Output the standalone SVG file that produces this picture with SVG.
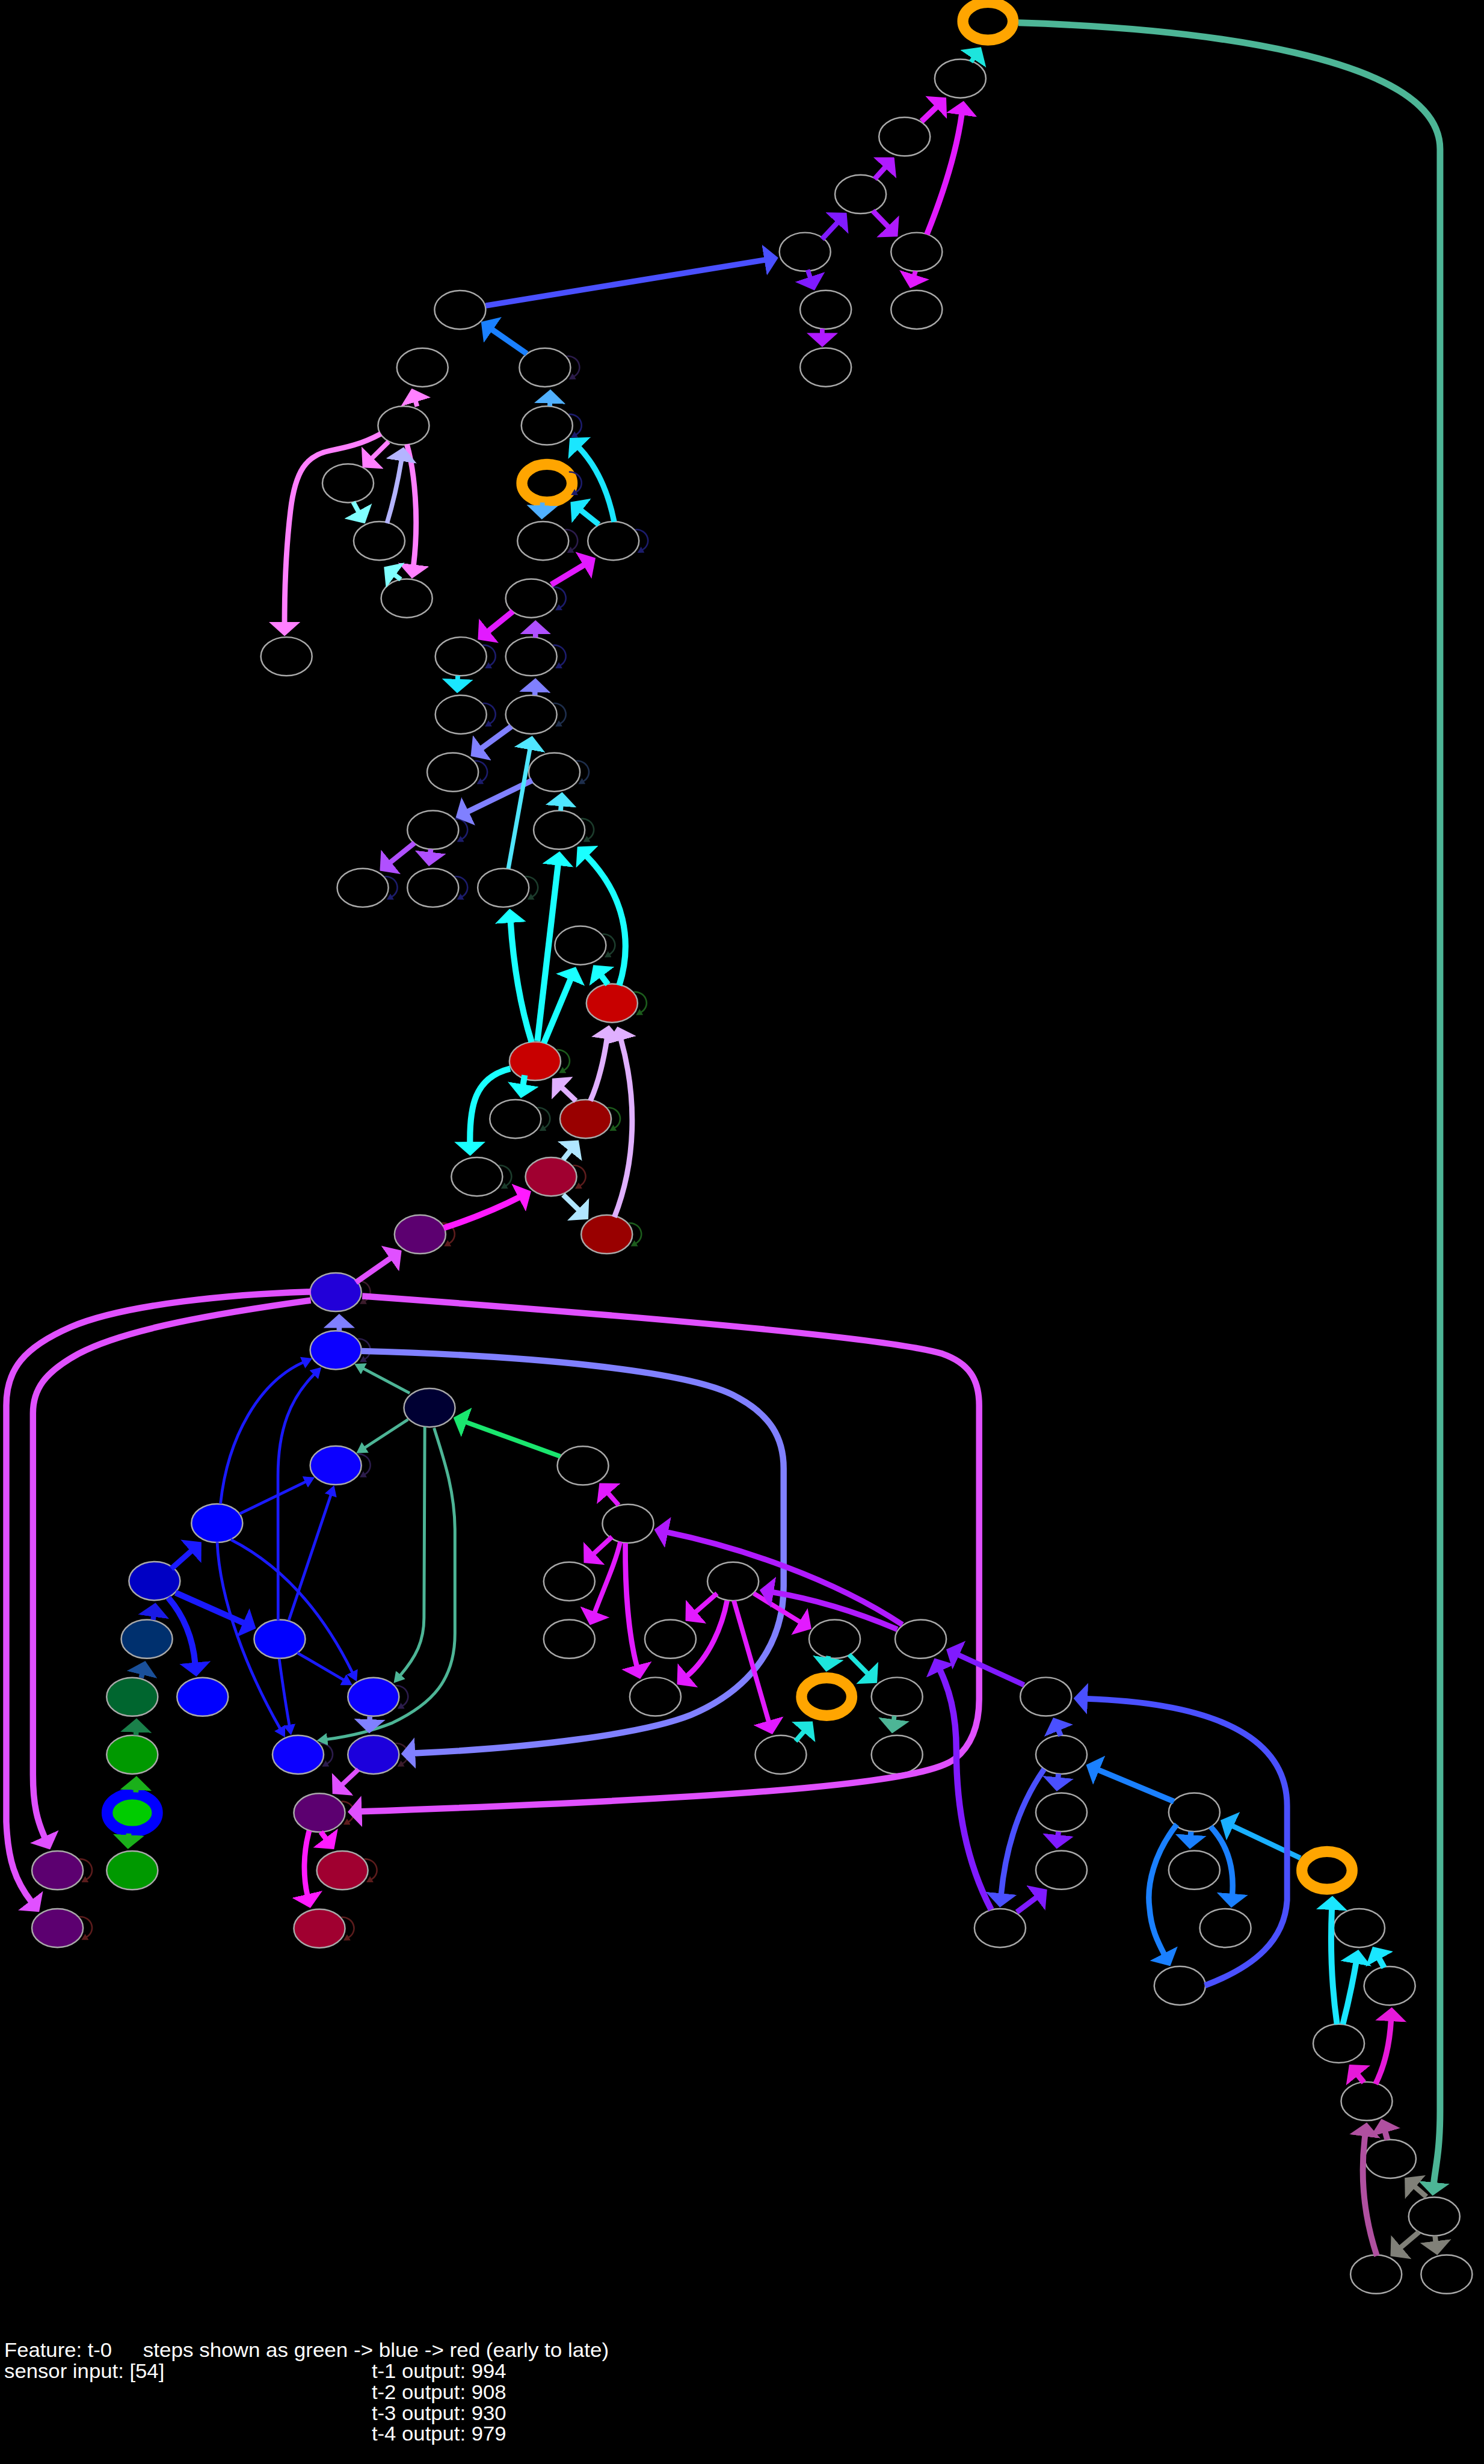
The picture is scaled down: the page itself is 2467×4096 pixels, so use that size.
<svg xmlns="http://www.w3.org/2000/svg" width="2467" height="4096" viewBox="0 0 2467 4096">
<style>
.n{fill:#000;stroke:#a9a9a9;stroke-width:0.95}
.o{fill:none;stroke:#ffa500;stroke-width:7}
.e{fill:none;stroke-linecap:butt}
.lp{fill:none;stroke-width:1}
text{font-family:"Liberation Sans Narrow","Liberation Sans",Arial,sans-serif;font-size:13px;fill:#fff}
</style>
<defs>
<marker id="a-teal" viewBox="0 0 10 10" refX="1" refY="5" markerWidth="9" markerHeight="20" markerUnits="userSpaceOnUse" orient="auto" preserveAspectRatio="none"><path d="M0,0L10,5L0,10z" fill="#4db596"/></marker>
<marker id="f-teal" viewBox="0 0 10 10" refX="1" refY="5" markerWidth="8.5" markerHeight="20" markerUnits="userSpaceOnUse" orient="auto" preserveAspectRatio="none"><path d="M0,0L10,5L0,10z" fill="#4db596"/></marker>
<marker id="t-teal" viewBox="0 0 10 10" refX="1" refY="5" markerWidth="6.8" markerHeight="8" markerUnits="userSpaceOnUse" orient="auto" preserveAspectRatio="none"><path d="M0,0L10,5L0,10z" fill="#4db596"/></marker>
<marker id="a-cyan1" viewBox="0 0 10 10" refX="1" refY="5" markerWidth="9" markerHeight="20" markerUnits="userSpaceOnUse" orient="auto" preserveAspectRatio="none"><path d="M0,0L10,5L0,10z" fill="#1de5dd"/></marker>
<marker id="a-mag" viewBox="0 0 10 10" refX="1" refY="5" markerWidth="9" markerHeight="20" markerUnits="userSpaceOnUse" orient="auto" preserveAspectRatio="none"><path d="M0,0L10,5L0,10z" fill="#e21aff"/></marker>
<marker id="a-purp" viewBox="0 0 10 10" refX="1" refY="5" markerWidth="9" markerHeight="20" markerUnits="userSpaceOnUse" orient="auto" preserveAspectRatio="none"><path d="M0,0L10,5L0,10z" fill="#b01aff"/></marker>
<marker id="a-viol" viewBox="0 0 10 10" refX="1" refY="5" markerWidth="9" markerHeight="20" markerUnits="userSpaceOnUse" orient="auto" preserveAspectRatio="none"><path d="M0,0L10,5L0,10z" fill="#801aff"/></marker>
<marker id="a-blue1" viewBox="0 0 10 10" refX="1" refY="5" markerWidth="9" markerHeight="20" markerUnits="userSpaceOnUse" orient="auto" preserveAspectRatio="none"><path d="M0,0L10,5L0,10z" fill="#4a50ff"/></marker>
<marker id="a-blue2" viewBox="0 0 10 10" refX="1" refY="5" markerWidth="9" markerHeight="20" markerUnits="userSpaceOnUse" orient="auto" preserveAspectRatio="none"><path d="M0,0L10,5L0,10z" fill="#1a80ff"/></marker>
<marker id="a-ltblue" viewBox="0 0 10 10" refX="1" refY="5" markerWidth="9" markerHeight="20" markerUnits="userSpaceOnUse" orient="auto" preserveAspectRatio="none"><path d="M0,0L10,5L0,10z" fill="#50b0ff"/></marker>
<marker id="a-cyan2" viewBox="0 0 10 10" refX="1" refY="5" markerWidth="9" markerHeight="20" markerUnits="userSpaceOnUse" orient="auto" preserveAspectRatio="none"><path d="M0,0L10,5L0,10z" fill="#1ae6ff"/></marker>
<marker id="a-pink" viewBox="0 0 10 10" refX="1" refY="5" markerWidth="9" markerHeight="20" markerUnits="userSpaceOnUse" orient="auto" preserveAspectRatio="none"><path d="M0,0L10,5L0,10z" fill="#ff80ff"/></marker>
<marker id="a-lav" viewBox="0 0 10 10" refX="1" refY="5" markerWidth="9" markerHeight="20" markerUnits="userSpaceOnUse" orient="auto" preserveAspectRatio="none"><path d="M0,0L10,5L0,10z" fill="#b4b4ff"/></marker>
<marker id="a-ltcyan" viewBox="0 0 10 10" refX="1" refY="5" markerWidth="9" markerHeight="20" markerUnits="userSpaceOnUse" orient="auto" preserveAspectRatio="none"><path d="M0,0L10,5L0,10z" fill="#80ffff"/></marker>
<marker id="a-viol2" viewBox="0 0 10 10" refX="1" refY="5" markerWidth="9" markerHeight="20" markerUnits="userSpaceOnUse" orient="auto" preserveAspectRatio="none"><path d="M0,0L10,5L0,10z" fill="#b050ff"/></marker>
<marker id="a-peri" viewBox="0 0 10 10" refX="1" refY="5" markerWidth="9" markerHeight="20" markerUnits="userSpaceOnUse" orient="auto" preserveAspectRatio="none"><path d="M0,0L10,5L0,10z" fill="#8080ff"/></marker>
<marker id="a-cyan3" viewBox="0 0 10 10" refX="1" refY="5" markerWidth="9" markerHeight="20" markerUnits="userSpaceOnUse" orient="auto" preserveAspectRatio="none"><path d="M0,0L10,5L0,10z" fill="#50e6ff"/></marker>
<marker id="a-cyan4" viewBox="0 0 10 10" refX="1" refY="5" markerWidth="9" markerHeight="20" markerUnits="userSpaceOnUse" orient="auto" preserveAspectRatio="none"><path d="M0,0L10,5L0,10z" fill="#1affff"/></marker>
<marker id="a-lav2" viewBox="0 0 10 10" refX="1" refY="5" markerWidth="9" markerHeight="20" markerUnits="userSpaceOnUse" orient="auto" preserveAspectRatio="none"><path d="M0,0L10,5L0,10z" fill="#e0b0ff"/></marker>
<marker id="a-pale" viewBox="0 0 10 10" refX="1" refY="5" markerWidth="9" markerHeight="20" markerUnits="userSpaceOnUse" orient="auto" preserveAspectRatio="none"><path d="M0,0L10,5L0,10z" fill="#b0e6ff"/></marker>
<marker id="a-mag2" viewBox="0 0 10 10" refX="1" refY="5" markerWidth="9" markerHeight="20" markerUnits="userSpaceOnUse" orient="auto" preserveAspectRatio="none"><path d="M0,0L10,5L0,10z" fill="#ff1aff"/></marker>
<marker id="a-pmag" viewBox="0 0 10 10" refX="1" refY="5" markerWidth="9" markerHeight="20" markerUnits="userSpaceOnUse" orient="auto" preserveAspectRatio="none"><path d="M0,0L10,5L0,10z" fill="#e050ff"/></marker>
<marker id="a-blue3" viewBox="0 0 10 10" refX="1" refY="5" markerWidth="9" markerHeight="20" markerUnits="userSpaceOnUse" orient="auto" preserveAspectRatio="none"><path d="M0,0L10,5L0,10z" fill="#1a1aff"/></marker>
<marker id="t-blue3" viewBox="0 0 10 10" refX="1" refY="5" markerWidth="6.8" markerHeight="8" markerUnits="userSpaceOnUse" orient="auto" preserveAspectRatio="none"><path d="M0,0L10,5L0,10z" fill="#1a1aff"/></marker>
<marker id="a-green" viewBox="0 0 10 10" refX="1" refY="5" markerWidth="9" markerHeight="20" markerUnits="userSpaceOnUse" orient="auto" preserveAspectRatio="none"><path d="M0,0L10,5L0,10z" fill="#1ae66e"/></marker>
<marker id="a-ltblue2" viewBox="0 0 10 10" refX="1" refY="5" markerWidth="9" markerHeight="20" markerUnits="userSpaceOnUse" orient="auto" preserveAspectRatio="none"><path d="M0,0L10,5L0,10z" fill="#1ab0ff"/></marker>
<marker id="a-mag3" viewBox="0 0 10 10" refX="1" refY="5" markerWidth="9" markerHeight="20" markerUnits="userSpaceOnUse" orient="auto" preserveAspectRatio="none"><path d="M0,0L10,5L0,10z" fill="#e619d9"/></marker>
<marker id="a-mauve" viewBox="0 0 10 10" refX="1" refY="5" markerWidth="9" markerHeight="20" markerUnits="userSpaceOnUse" orient="auto" preserveAspectRatio="none"><path d="M0,0L10,5L0,10z" fill="#b050a0"/></marker>
<marker id="a-grey" viewBox="0 0 10 10" refX="1" refY="5" markerWidth="9" markerHeight="20" markerUnits="userSpaceOnUse" orient="auto" preserveAspectRatio="none"><path d="M0,0L10,5L0,10z" fill="#808078"/></marker>
<marker id="a-g1" viewBox="0 0 10 10" refX="1" refY="5" markerWidth="9" markerHeight="20" markerUnits="userSpaceOnUse" orient="auto" preserveAspectRatio="none"><path d="M0,0L10,5L0,10z" fill="#1ab01a"/></marker>
<marker id="a-g2" viewBox="0 0 10 10" refX="1" refY="5" markerWidth="9" markerHeight="20" markerUnits="userSpaceOnUse" orient="auto" preserveAspectRatio="none"><path d="M0,0L10,5L0,10z" fill="#1a804a"/></marker>
<marker id="a-g3" viewBox="0 0 10 10" refX="1" refY="5" markerWidth="9" markerHeight="20" markerUnits="userSpaceOnUse" orient="auto" preserveAspectRatio="none"><path d="M0,0L10,5L0,10z" fill="#1a509a"/></marker>
<marker id="a-g4" viewBox="0 0 10 10" refX="1" refY="5" markerWidth="9" markerHeight="20" markerUnits="userSpaceOnUse" orient="auto" preserveAspectRatio="none"><path d="M0,0L10,5L0,10z" fill="#1a1ae6"/></marker>
<marker id="l-navy" viewBox="0 0 10 10" refX="1" refY="5" markerWidth="4" markerHeight="4.5" markerUnits="userSpaceOnUse" orient="auto" preserveAspectRatio="none"><path d="M0,0L10,5L0,10z" fill="#1c1c6c"/></marker>
<marker id="l-dp" viewBox="0 0 10 10" refX="1" refY="5" markerWidth="4" markerHeight="4.5" markerUnits="userSpaceOnUse" orient="auto" preserveAspectRatio="none"><path d="M0,0L10,5L0,10z" fill="#2c1c4c"/></marker>
<marker id="l-slate" viewBox="0 0 10 10" refX="1" refY="5" markerWidth="4" markerHeight="4.5" markerUnits="userSpaceOnUse" orient="auto" preserveAspectRatio="none"><path d="M0,0L10,5L0,10z" fill="#1e2e4c"/></marker>
<marker id="l-dg" viewBox="0 0 10 10" refX="1" refY="5" markerWidth="4" markerHeight="4.5" markerUnits="userSpaceOnUse" orient="auto" preserveAspectRatio="none"><path d="M0,0L10,5L0,10z" fill="#1c3c2c"/></marker>
<marker id="l-g" viewBox="0 0 10 10" refX="1" refY="5" markerWidth="4" markerHeight="4.5" markerUnits="userSpaceOnUse" orient="auto" preserveAspectRatio="none"><path d="M0,0L10,5L0,10z" fill="#1c5c1c"/></marker>
<marker id="l-r" viewBox="0 0 10 10" refX="1" refY="5" markerWidth="4" markerHeight="4.5" markerUnits="userSpaceOnUse" orient="auto" preserveAspectRatio="none"><path d="M0,0L10,5L0,10z" fill="#5c1c1c"/></marker>
<marker id="l-rp" viewBox="0 0 10 10" refX="1" refY="5" markerWidth="4" markerHeight="4.5" markerUnits="userSpaceOnUse" orient="auto" preserveAspectRatio="none"><path d="M0,0L10,5L0,10z" fill="#3c1c2c"/></marker>
</defs>
<rect x="0" y="0" width="2467" height="4096" fill="#000"/>
<g transform="scale(2.6106)">
<g id="nodes">
<g id="n-A"><ellipse class="o" cx="629.1" cy="13.5" rx="16" ry="12"/></g>
<g id="n-B"><ellipse class="n" cx="611.5" cy="50" rx="16.3" ry="12.3"/></g>
<g id="n-C"><ellipse class="n" cx="576" cy="87" rx="16.3" ry="12.3"/></g>
<g id="n-D"><ellipse class="n" cx="548" cy="123.7" rx="16.3" ry="12.3"/></g>
<g id="n-E"><ellipse class="n" cx="512.6" cy="160.4" rx="16.3" ry="12.3"/></g>
<g id="n-F"><ellipse class="n" cx="583.7" cy="160.4" rx="16.3" ry="12.3"/></g>
<g id="n-G"><ellipse class="n" cx="525.8" cy="197.2" rx="16.3" ry="12.3"/></g>
<g id="n-H"><ellipse class="n" cx="583.7" cy="197.2" rx="16.3" ry="12.3"/></g>
<g id="n-I"><ellipse class="n" cx="525.8" cy="233.9" rx="16.3" ry="12.3"/></g>
<g id="n-J"><ellipse class="n" cx="293" cy="197.3" rx="16.3" ry="12.3"/></g>
<g id="n-K"><ellipse class="n" cx="269" cy="234" rx="16.3" ry="12.3"/></g>
<g id="n-L"><ellipse class="n" cx="347" cy="234" rx="16.3" ry="12.3"/></g>
<g id="n-M"><ellipse class="n" cx="257" cy="271" rx="16.3" ry="12.3"/></g>
<g id="n-N"><ellipse class="n" cx="348.3" cy="271" rx="16.3" ry="12.3"/></g>
<g id="n-O"><ellipse class="n" cx="221.6" cy="307.7" rx="16.3" ry="12.3"/></g>
<g id="n-P"><ellipse class="o" cx="348.3" cy="307.7" rx="16" ry="12"/></g>
<g id="n-Q"><ellipse class="n" cx="241.5" cy="344.4" rx="16.3" ry="12.3"/></g>
<g id="n-R"><ellipse class="n" cx="345.8" cy="344.4" rx="16.3" ry="12.3"/></g>
<g id="n-S"><ellipse class="n" cx="390.6" cy="344.4" rx="16.3" ry="12.3"/></g>
<g id="n-T"><ellipse class="n" cx="259" cy="381" rx="16.3" ry="12.3"/></g>
<g id="n-U"><ellipse class="n" cx="182.4" cy="418" rx="16.3" ry="12.3"/></g>
<g id="n-V"><ellipse class="n" cx="338.3" cy="381" rx="16.3" ry="12.3"/></g>
<g id="n-W"><ellipse class="n" cx="293.5" cy="418" rx="16.3" ry="12.3"/></g>
<g id="n-X"><ellipse class="n" cx="338.3" cy="418" rx="16.3" ry="12.3"/></g>
<g id="n-Y"><ellipse class="n" cx="293.5" cy="455" rx="16.3" ry="12.3"/></g>
<g id="n-Z"><ellipse class="n" cx="338.3" cy="455" rx="16.3" ry="12.3"/></g>
<g id="n-AA"><ellipse class="n" cx="288.3" cy="491.7" rx="16.3" ry="12.3"/></g>
<g id="n-AB"><ellipse class="n" cx="353" cy="491.7" rx="16.3" ry="12.3"/></g>
<g id="n-AC"><ellipse class="n" cx="275.7" cy="528.5" rx="16.3" ry="12.3"/></g>
<g id="n-AD"><ellipse class="n" cx="356.1" cy="528.5" rx="16.3" ry="12.3"/></g>
<g id="n-AE"><ellipse class="n" cx="231" cy="565.3" rx="16.3" ry="12.3"/></g>
<g id="n-AF"><ellipse class="n" cx="275.7" cy="565.3" rx="16.3" ry="12.3"/></g>
<g id="n-AG"><ellipse class="n" cx="320.5" cy="565.3" rx="16.3" ry="12.3"/></g>
<g id="n-AH"><ellipse class="n" cx="369.6" cy="602" rx="16.3" ry="12.3"/></g>
<g id="n-AI"><ellipse class="n" cx="389.7" cy="638.8" rx="16.3" ry="12.3" style="fill:#c80000"/></g>
<g id="n-AJ"><ellipse class="n" cx="340.7" cy="675.7" rx="16.3" ry="12.3" style="fill:#c80000"/></g>
<g id="n-AK"><ellipse class="n" cx="328.2" cy="712.5" rx="16.3" ry="12.3"/></g>
<g id="n-AL"><ellipse class="n" cx="372.9" cy="712.5" rx="16.3" ry="12.3" style="fill:#990000"/></g>
<g id="n-AM"><ellipse class="n" cx="303.7" cy="749.3" rx="16.3" ry="12.3"/></g>
<g id="n-AN"><ellipse class="n" cx="350.9" cy="749.3" rx="16.3" ry="12.3" style="fill:#a00030"/></g>
<g id="n-AO"><ellipse class="n" cx="267.5" cy="786" rx="16.3" ry="12.3" style="fill:#5c0070"/></g>
<g id="n-AP"><ellipse class="n" cx="386.4" cy="786" rx="16.3" ry="12.3" style="fill:#990000"/></g>
<g id="n-AQ"><ellipse class="n" cx="213.8" cy="822.8" rx="16.3" ry="12.3" style="fill:#2200d8"/></g>
<g id="n-AR"><ellipse class="n" cx="213.8" cy="859.7" rx="16.3" ry="12.3" style="fill:#0c00ff"/></g>
<g id="n-AS"><ellipse class="n" cx="273.5" cy="896.4" rx="16.3" ry="12.3" style="fill:#000033"/></g>
<g id="n-AT"><ellipse class="n" cx="371.2" cy="933.3" rx="16.3" ry="12.3"/></g>
<g id="n-AU"><ellipse class="n" cx="213.8" cy="933.1" rx="16.3" ry="12.3" style="fill:#0c00ff"/></g>
<g id="n-AV"><ellipse class="n" cx="138.2" cy="969.9" rx="16.3" ry="12.3" style="fill:#0000ff"/></g>
<g id="n-AW"><ellipse class="n" cx="399.9" cy="970.2" rx="16.3" ry="12.3"/></g>
<g id="n-AX"><ellipse class="n" cx="98.4" cy="1006.7" rx="16.3" ry="12.3" style="fill:#0000c4"/></g>
<g id="n-AY"><ellipse class="n" cx="362.5" cy="1007" rx="16.3" ry="12.3"/></g>
<g id="n-AZ"><ellipse class="n" cx="466.8" cy="1007" rx="16.3" ry="12.3"/></g>
<g id="n-BA"><ellipse class="n" cx="93.5" cy="1043.7" rx="16.3" ry="12.3" style="fill:#00306e"/></g>
<g id="n-BB"><ellipse class="n" cx="178.1" cy="1043.7" rx="16.3" ry="12.3" style="fill:#0000ff"/></g>
<g id="n-BC"><ellipse class="n" cx="362.5" cy="1043.7" rx="16.3" ry="12.3"/></g>
<g id="n-BD"><ellipse class="n" cx="426.9" cy="1043.7" rx="16.3" ry="12.3"/></g>
<g id="n-BE"><ellipse class="n" cx="531.5" cy="1043.7" rx="16.3" ry="12.3"/></g>
<g id="n-BF"><ellipse class="n" cx="586.3" cy="1043.7" rx="16.3" ry="12.3"/></g>
<g id="n-BG"><ellipse class="n" cx="84.2" cy="1080.5" rx="16.3" ry="12.3" style="fill:#00662f"/></g>
<g id="n-BH"><ellipse class="n" cx="129" cy="1080.5" rx="16.3" ry="12.3" style="fill:#0000ff"/></g>
<g id="n-BI"><ellipse class="n" cx="237.8" cy="1080.5" rx="16.3" ry="12.3" style="fill:#0c00ff"/></g>
<g id="n-BJ"><ellipse class="n" cx="417.3" cy="1080.4" rx="16.3" ry="12.3"/></g>
<g id="n-BK"><ellipse class="o" cx="526.4" cy="1080.4" rx="16" ry="12"/></g>
<g id="n-BL"><ellipse class="n" cx="571.2" cy="1080.4" rx="16.3" ry="12.3"/></g>
<g id="n-BM"><ellipse class="n" cx="666" cy="1080.4" rx="16.3" ry="12.3"/></g>
<g id="n-BN"><ellipse class="n" cx="84.2" cy="1117.3" rx="16.3" ry="12.3" style="fill:#009900"/></g>
<g id="n-BO"><ellipse class="n" cx="189.8" cy="1117.3" rx="16.3" ry="12.3" style="fill:#0c00ff"/></g>
<g id="n-BP"><ellipse class="n" cx="237.8" cy="1117.3" rx="16.3" ry="12.3" style="fill:#1c00dc"/></g>
<g id="n-BQ"><ellipse class="n" cx="497.2" cy="1117.3" rx="16.3" ry="12.3"/></g>
<g id="n-BR"><ellipse class="n" cx="571.2" cy="1117.3" rx="16.3" ry="12.3"/></g>
<g id="n-BS"><ellipse class="n" cx="675.9" cy="1117.3" rx="16.3" ry="12.3"/></g>
<g id="n-BT"><ellipse cx="84.2" cy="1154.3" rx="16" ry="12" style="fill:#00cc00;stroke:#0000ff;stroke-width:7"/></g>
<g id="n-BU"><ellipse class="n" cx="203.4" cy="1154.3" rx="16.3" ry="12.3" style="fill:#5c0070"/></g>
<g id="n-BV"><ellipse class="n" cx="675.9" cy="1154" rx="16.3" ry="12.3"/></g>
<g id="n-BW"><ellipse class="n" cx="760.5" cy="1154" rx="16.3" ry="12.3"/></g>
<g id="n-BX"><ellipse class="n" cx="36.6" cy="1191" rx="16.3" ry="12.3" style="fill:#5c0070"/></g>
<g id="n-BY"><ellipse class="n" cx="84.2" cy="1191" rx="16.3" ry="12.3" style="fill:#009900"/></g>
<g id="n-BZ"><ellipse class="n" cx="218" cy="1191" rx="16.3" ry="12.3" style="fill:#a00030"/></g>
<g id="n-CA"><ellipse class="n" cx="675.9" cy="1190.8" rx="16.3" ry="12.3"/></g>
<g id="n-CB"><ellipse class="n" cx="760.5" cy="1190.8" rx="16.3" ry="12.3"/></g>
<g id="n-CC"><ellipse class="o" cx="845" cy="1191" rx="16" ry="12"/></g>
<g id="n-CD"><ellipse class="n" cx="36.6" cy="1227.7" rx="16.3" ry="12.3" style="fill:#5c0070"/></g>
<g id="n-CE"><ellipse class="n" cx="203.4" cy="1228" rx="16.3" ry="12.3" style="fill:#a00030"/></g>
<g id="n-CF"><ellipse class="n" cx="636.8" cy="1227.7" rx="16.3" ry="12.3"/></g>
<g id="n-CG"><ellipse class="n" cx="780.3" cy="1227.7" rx="16.3" ry="12.3"/></g>
<g id="n-CH"><ellipse class="n" cx="865.5" cy="1227.7" rx="16.3" ry="12.3"/></g>
<g id="n-CI"><ellipse class="n" cx="751.3" cy="1264.4" rx="16.3" ry="12.3"/></g>
<g id="n-CJ"><ellipse class="n" cx="884.9" cy="1264.5" rx="16.3" ry="12.3"/></g>
<g id="n-CK"><ellipse class="n" cx="852.5" cy="1301.2" rx="16.3" ry="12.3"/></g>
<g id="n-CL"><ellipse class="n" cx="870.3" cy="1338" rx="16.3" ry="12.3"/></g>
<g id="n-CM"><ellipse class="n" cx="885.4" cy="1374.7" rx="16.3" ry="12.3"/></g>
<g id="n-CN"><ellipse class="n" cx="913.3" cy="1411.4" rx="16.3" ry="12.3"/></g>
<g id="n-CO"><ellipse class="n" cx="876.3" cy="1448.2" rx="16.3" ry="12.3"/></g>
<g id="n-CP"><ellipse class="n" cx="921.2" cy="1448.2" rx="16.3" ry="12.3"/></g>
</g>
<g id="edges">
<g id="loops">
<path class="lp" transform="translate(347,234)" stroke="#2c1c4c" marker-end="url(#l-dp)" d="M14,-7.2C22,-7.5 25,2 18.4,5.8"/>
<path class="lp" transform="translate(348.3,271)" stroke="#1c1c6c" marker-end="url(#l-navy)" d="M14,-7.2C22,-7.5 25,2 18.4,5.8"/>
<path class="lp" transform="translate(348.3,307.7)" stroke="#1c1c6c" marker-end="url(#l-navy)" d="M14,-7.2C22,-7.5 25,2 18.4,5.8"/>
<path class="lp" transform="translate(345.8,344.4)" stroke="#2c1c4c" marker-end="url(#l-dp)" d="M14,-7.2C22,-7.5 25,2 18.4,5.8"/>
<path class="lp" transform="translate(390.6,344.4)" stroke="#1c1c6c" marker-end="url(#l-navy)" d="M14,-7.2C22,-7.5 25,2 18.4,5.8"/>
<path class="lp" transform="translate(338.3,381)" stroke="#1c1c6c" marker-end="url(#l-navy)" d="M14,-7.2C22,-7.5 25,2 18.4,5.8"/>
<path class="lp" transform="translate(293.5,418)" stroke="#1c1c6c" marker-end="url(#l-navy)" d="M14,-7.2C22,-7.5 25,2 18.4,5.8"/>
<path class="lp" transform="translate(338.3,418)" stroke="#1c1c6c" marker-end="url(#l-navy)" d="M14,-7.2C22,-7.5 25,2 18.4,5.8"/>
<path class="lp" transform="translate(293.5,455)" stroke="#1c1c6c" marker-end="url(#l-navy)" d="M14,-7.2C22,-7.5 25,2 18.4,5.8"/>
<path class="lp" transform="translate(338.3,455)" stroke="#1e2e4c" marker-end="url(#l-slate)" d="M14,-7.2C22,-7.5 25,2 18.4,5.8"/>
<path class="lp" transform="translate(288.3,491.7)" stroke="#1c1c6c" marker-end="url(#l-navy)" d="M14,-7.2C22,-7.5 25,2 18.4,5.8"/>
<path class="lp" transform="translate(353,491.7)" stroke="#1e2e4c" marker-end="url(#l-slate)" d="M14,-7.2C22,-7.5 25,2 18.4,5.8"/>
<path class="lp" transform="translate(275.7,528.5)" stroke="#1c1c6c" marker-end="url(#l-navy)" d="M14,-7.2C22,-7.5 25,2 18.4,5.8"/>
<path class="lp" transform="translate(356.1,528.5)" stroke="#1c3c2c" marker-end="url(#l-dg)" d="M14,-7.2C22,-7.5 25,2 18.4,5.8"/>
<path class="lp" transform="translate(231,565.3)" stroke="#1c1c6c" marker-end="url(#l-navy)" d="M14,-7.2C22,-7.5 25,2 18.4,5.8"/>
<path class="lp" transform="translate(275.7,565.3)" stroke="#1c1c6c" marker-end="url(#l-navy)" d="M14,-7.2C22,-7.5 25,2 18.4,5.8"/>
<path class="lp" transform="translate(320.5,565.3)" stroke="#1c3c2c" marker-end="url(#l-dg)" d="M14,-7.2C22,-7.5 25,2 18.4,5.8"/>
<path class="lp" transform="translate(369.6,602)" stroke="#1c3c2c" marker-end="url(#l-dg)" d="M14,-7.2C22,-7.5 25,2 18.4,5.8"/>
<path class="lp" transform="translate(389.7,638.8)" stroke="#1c5c1c" marker-end="url(#l-g)" d="M14,-7.2C22,-7.5 25,2 18.4,5.8"/>
<path class="lp" transform="translate(340.7,675.7)" stroke="#1c5c1c" marker-end="url(#l-g)" d="M14,-7.2C22,-7.5 25,2 18.4,5.8"/>
<path class="lp" transform="translate(328.2,712.5)" stroke="#1c3c2c" marker-end="url(#l-dg)" d="M14,-7.2C22,-7.5 25,2 18.4,5.8"/>
<path class="lp" transform="translate(372.9,712.5)" stroke="#1c5c1c" marker-end="url(#l-g)" d="M14,-7.2C22,-7.5 25,2 18.4,5.8"/>
<path class="lp" transform="translate(303.7,749.3)" stroke="#1c3c2c" marker-end="url(#l-dg)" d="M14,-7.2C22,-7.5 25,2 18.4,5.8"/>
<path class="lp" transform="translate(350.9,749.3)" stroke="#5c1c1c" marker-end="url(#l-r)" d="M14,-7.2C22,-7.5 25,2 18.4,5.8"/>
<path class="lp" transform="translate(267.5,786)" stroke="#5c1c1c" marker-end="url(#l-r)" d="M14,-7.2C22,-7.5 25,2 18.4,5.8"/>
<path class="lp" transform="translate(386.4,786)" stroke="#1c5c1c" marker-end="url(#l-g)" d="M14,-7.2C22,-7.5 25,2 18.4,5.8"/>
<path class="lp" transform="translate(213.8,822.8)" stroke="#3c1c2c" marker-end="url(#l-rp)" d="M14,-7.2C22,-7.5 25,2 18.4,5.8"/>
<path class="lp" transform="translate(213.8,859.7)" stroke="#2c1c4c" marker-end="url(#l-dp)" d="M14,-7.2C22,-7.5 25,2 18.4,5.8"/>
<path class="lp" transform="translate(213.8,933.1)" stroke="#2c1c4c" marker-end="url(#l-dp)" d="M14,-7.2C22,-7.5 25,2 18.4,5.8"/>
<path class="lp" transform="translate(237.8,1080.5)" stroke="#2c1c4c" marker-end="url(#l-dp)" d="M14,-7.2C22,-7.5 25,2 18.4,5.8"/>
<path class="lp" transform="translate(189.8,1117.3)" stroke="#2c1c4c" marker-end="url(#l-dp)" d="M14,-7.2C22,-7.5 25,2 18.4,5.8"/>
<path class="lp" transform="translate(237.8,1117.3)" stroke="#3c1c2c" marker-end="url(#l-rp)" d="M14,-7.2C22,-7.5 25,2 18.4,5.8"/>
<path class="lp" transform="translate(203.4,1154.3)" stroke="#5c1c1c" marker-end="url(#l-r)" d="M14,-7.2C22,-7.5 25,2 18.4,5.8"/>
<path class="lp" transform="translate(36.6,1191)" stroke="#5c1c1c" marker-end="url(#l-r)" d="M14,-7.2C22,-7.5 25,2 18.4,5.8"/>
<path class="lp" transform="translate(36.6,1227.7)" stroke="#5c1c1c" marker-end="url(#l-r)" d="M14,-7.2C22,-7.5 25,2 18.4,5.8"/>
<path class="lp" transform="translate(218,1191)" stroke="#5c1c1c" marker-end="url(#l-r)" d="M14,-7.2C22,-7.5 25,2 18.4,5.8"/>
<path class="lp" transform="translate(203.4,1228)" stroke="#5c1c1c" marker-end="url(#l-r)" d="M14,-7.2C22,-7.5 25,2 18.4,5.8"/>
</g>
<path class="e" stroke="#4db596" stroke-width="4.2" marker-end="url(#f-teal)" d="M648.5,14.5C760,18 917,35 917,95L917,1344C917,1370 914,1380 913,1390.5"/>
<path class="e" stroke="#1de5dd" stroke-width="3" marker-end="url(#a-cyan1)" d="M618.3,39.5L620.2,36.7"/>
<path class="e" stroke="#e21aff" stroke-width="3.7" marker-end="url(#a-mag)" d="M586.8,77.3L596.7,67.8"/>
<path class="e" stroke="#e21aff" stroke-width="3.7" marker-end="url(#a-mag)" d="M590.2,149.3Q608,105 612.5,72.3"/>
<path class="e" stroke="#b01aff" stroke-width="3.3" marker-end="url(#a-purp)" d="M556.9,114L564,106.2"/>
<path class="e" stroke="#801aff" stroke-width="3.3" marker-end="url(#a-viol)" d="M523.4,152.3L533.6,141.4"/>
<path class="e" stroke="#b01aff" stroke-width="3.3" marker-end="url(#a-purp)" d="M555.7,134.2L566,144.8"/>
<path class="e" stroke="#801aff" stroke-width="3" marker-end="url(#a-viol)" d="M514.3,171.8L516.1,177.2"/>
<path class="e" stroke="#b01aff" stroke-width="3" marker-end="url(#a-purp)" d="M523.6,209.3L523.6,212.9"/>
<path class="e" stroke="#e21aff" stroke-width="3" marker-end="url(#a-mag)" d="M583,172.6L582,175.8"/>
<path class="e" stroke="#4a50ff" stroke-width="3.6" marker-end="url(#a-blue1)" d="M309.3,194.6L487.6,165.4"/>
<path class="e" stroke="#1a80ff" stroke-width="3.7" marker-end="url(#a-blue2)" d="M335.4,225.2L313,209.6"/>
<path class="e" stroke="#50b0ff" stroke-width="3" marker-end="url(#a-ltblue)" d="M350.1,258.6L350.2,256"/>
<path class="e" stroke="#1ae6ff" stroke-width="3.6" marker-end="url(#a-cyan2)" d="M391.1,332.3Q385,302 368.4,284.7"/>
<path class="e" stroke="#1ae6ff" stroke-width="3.6" marker-end="url(#a-cyan2)" d="M381.3,334L369.6,324.7"/>
<path class="e" stroke="#50b0ff" stroke-width="3" marker-end="url(#a-ltblue)" d="M345.4,320L345.3,322.7"/>
<path class="e" stroke="#e21aff" stroke-width="3.7" marker-end="url(#a-mag)" d="M351,372.3L372.3,359.5"/>
<path class="e" stroke="#e21aff" stroke-width="3.7" marker-end="url(#a-mag)" d="M326.6,389.3L310.6,402.2"/>
<path class="e" stroke="#b050ff" stroke-width="3.3" marker-end="url(#a-viol2)" d="M341,406L341,403"/>
<path class="e" stroke="#1ae6ff" stroke-width="3" marker-end="url(#a-cyan2)" d="M291.5,430.3L291.4,433.3"/>
<path class="e" stroke="#8080ff" stroke-width="3.3" marker-end="url(#a-peri)" d="M340.6,442.7L340.7,439.9"/>
<path class="e" stroke="#8080ff" stroke-width="3.6" marker-end="url(#a-peri)" d="M325.6,462.6L306.3,476.7"/>
<path class="e" stroke="#8080ff" stroke-width="3.6" marker-end="url(#a-peri)" d="M338.9,496.9L297.5,517"/>
<path class="e" stroke="#50e6ff" stroke-width="2.7" marker-end="url(#a-cyan3)" d="M323.7,553.1L337.5,476.5"/>
<path class="e" stroke="#50e6ff" stroke-width="3" marker-end="url(#a-cyan3)" d="M357,516.2L357.3,512.5"/>
<path class="e" stroke="#b050ff" stroke-width="3.3" marker-end="url(#a-viol2)" d="M264,536.7L248.2,549.4"/>
<path class="e" stroke="#b050ff" stroke-width="3.3" marker-end="url(#a-viol2)" d="M274.3,540.8L274,543.5"/>
<path class="e" stroke="#1affff" stroke-width="3.9" marker-end="url(#a-cyan4)" d="M338.5,663.5Q328,630 325.1,586.7"/>
<path class="e" stroke="#1affff" stroke-width="3.9" marker-end="url(#a-cyan4)" d="M342.2,662.9L355.4,550.2"/>
<path class="e" stroke="#1affff" stroke-width="3.9" marker-end="url(#a-cyan4)" d="M346.3,664.2L363.5,623.1"/>
<path class="e" stroke="#1affff" stroke-width="3.9" marker-end="url(#a-cyan4)" d="M387.1,626.8L382.7,621"/>
<path class="e" stroke="#1affff" stroke-width="3.9" marker-end="url(#a-cyan4)" d="M394.3,627.5C403,600 398,570 373.3,544.9"/>
<path class="e" stroke="#1affff" stroke-width="3.9" marker-end="url(#a-cyan4)" d="M334.1,684.6L333,691.3"/>
<path class="e" stroke="#1affff" stroke-width="3.9" marker-end="url(#a-cyan4)" d="M324.9,680.5C302,686 299,705 299.3,727.9"/>
<path class="e" stroke="#e0b0ff" stroke-width="3.4" marker-end="url(#a-lav2)" d="M366.7,701L357.5,692.3"/>
<path class="e" stroke="#e0b0ff" stroke-width="3.4" marker-end="url(#a-lav2)" d="M375.9,701Q383,685 386.6,660.8"/>
<path class="e" stroke="#e0b0ff" stroke-width="3.4" marker-end="url(#a-lav2)" d="M391.2,775.1C405,740 406,700 395.3,661.5"/>
<path class="e" stroke="#b0e6ff" stroke-width="3.3" marker-end="url(#a-pale)" d="M358.6,738.4L363.4,732.4"/>
<path class="e" stroke="#b0e6ff" stroke-width="3.3" marker-end="url(#a-pale)" d="M358.6,760.8L368.8,770.7"/>
<path class="e" stroke="#ff1aff" stroke-width="3.9" marker-end="url(#a-mag2)" d="M282.6,781.9Q310,773 331,762.2"/>
<path class="e" stroke="#e050ff" stroke-width="3.5" marker-end="url(#a-pmag)" d="M226.6,816.6L249.1,800.9"/>
<path class="e" stroke="#8080ff" stroke-width="3.3" marker-end="url(#a-peri)" d="M216,847.4L216,844.7"/>
<path class="e" stroke="#e050ff" stroke-width="4" marker-end="url(#a-pmag)" d="M197.9,822.5C150,824 80,830 45,845C15,858 4,872 4,895L4,1160C5,1185 10,1198 20,1211"/>
<path class="e" stroke="#e050ff" stroke-width="4" marker-end="url(#a-pmag)" d="M197.9,828C140,836 80,846 50,862C28,874 21,885 21,900L21,1130C21,1150 24,1160 28.6,1170.3"/>
<path class="e" stroke="#e050ff" stroke-width="4" marker-end="url(#a-pmag)" d="M230.7,825.3C350,834 560,850 600,862C617,868 623.5,878 623.5,895L623.5,1082C623.5,1100 618,1112 608,1120C590,1134 500,1144 229.5,1153.5"/>
<path class="e" stroke="#8080ff" stroke-width="4" marker-end="url(#a-peri)" d="M230,860.3C330,863 440,872 470,890C490,901 499,915 499,935L499,1010C499,1045 480,1075 440,1092C410,1104 340,1113 263.5,1116.4"/>
<path class="e" stroke="#4db596" stroke-width="1.9" marker-end="url(#t-teal)" d="M260.9,887.1L231.1,871.3"/>
<path class="e" stroke="#4db596" stroke-width="1.9" marker-end="url(#t-teal)" d="M259.8,903.9L232,922"/>
<path class="e" stroke="#4db596" stroke-width="1.9" marker-end="url(#t-teal)" d="M270.5,908.5L270,1030C270,1045 265,1055 254.7,1067"/>
<path class="e" stroke="#4db596" stroke-width="1.9" marker-end="url(#t-teal)" d="M276.4,909.3C283,930 289.7,950 289.7,975L289.7,1040C289.7,1070 275,1085 250,1097C235,1103 220,1106 207.8,1107.6"/>
<path class="e" stroke="#1ae66e" stroke-width="3" marker-end="url(#a-green)" d="M356.7,927.3L296.3,905.4"/>
<path class="e" stroke="#e21aff" stroke-width="3" marker-end="url(#a-mag)" d="M393.9,958.4L387,950.5"/>
<path class="e" stroke="#e21aff" stroke-width="3" marker-end="url(#a-mag)" d="M389.7,978.6L377.7,989.7"/>
<path class="e" stroke="#e21aff" stroke-width="3" marker-end="url(#a-mag)" d="M395,981.7C392,995 385,1010 378.5,1027.2"/>
<path class="e" stroke="#e21aff" stroke-width="3.3" marker-end="url(#a-mag)" d="M398.2,982.5C398,1010 400,1040 405.6,1061.3"/>
<path class="e" stroke="#e21aff" stroke-width="3" marker-end="url(#a-mag)" d="M456.6,1014.6L442.6,1026.8"/>
<path class="e" stroke="#e21aff" stroke-width="3.3" marker-end="url(#a-mag)" d="M463,1019.2C460,1035 452,1055 437.3,1067.4"/>
<path class="e" stroke="#e21aff" stroke-width="3" marker-end="url(#a-mag)" d="M467.3,1019.2L489.6,1096.6"/>
<path class="e" stroke="#e21aff" stroke-width="3" marker-end="url(#a-mag)" d="M480,1014.6L509.8,1033"/>
<path class="e" stroke="#b01aff" stroke-width="3.6" marker-end="url(#a-purp)" d="M574.6,1034.5C530,1005 470,985 424.5,975.6"/>
<path class="e" stroke="#b01aff" stroke-width="3.6" marker-end="url(#a-purp)" d="M571.4,1037.5Q530,1020 491.7,1013.8"/>
<path class="e" stroke="#1de5dd" stroke-width="3" marker-end="url(#a-cyan1)" d="M527.6,1054.5L527.3,1056.5"/>
<path class="e" stroke="#1de5dd" stroke-width="3" marker-end="url(#a-cyan1)" d="M540.6,1053.6L552.8,1065.9"/>
<path class="e" stroke="#4db596" stroke-width="3" marker-end="url(#a-teal)" d="M569.5,1092.6L569.1,1095.7"/>
<path class="e" stroke="#1de5dd" stroke-width="3" marker-end="url(#a-cyan1)" d="M506.6,1108.7L512.2,1102.2"/>
<path class="e" stroke="#801aff" stroke-width="3.4" marker-end="url(#a-viol)" d="M652.1,1072.9L609.9,1053.6"/>
<path class="e" stroke="#801aff" stroke-width="4" marker-end="url(#a-viol)" d="M631.2,1216C615,1185 609,1150 609,1115C609,1090 604,1075 598.5,1063.2"/>
<path class="e" stroke="#801aff" stroke-width="3.4" marker-end="url(#a-viol)" d="M647.5,1217.6L660.3,1208"/>
<path class="e" stroke="#4a50ff" stroke-width="3.4" marker-end="url(#a-blue1)" d="M675.5,1105.3L673.8,1101.2"/>
<path class="e" stroke="#4a50ff" stroke-width="3.6" marker-end="url(#a-blue1)" d="M664.9,1126.5C652,1145 641,1170 637.5,1206.5"/>
<path class="e" stroke="#4a50ff" stroke-width="3.4" marker-end="url(#a-blue1)" d="M674,1129.5L673.7,1132.6"/>
<path class="e" stroke="#801aff" stroke-width="3.4" marker-end="url(#a-viol)" d="M674,1166.3L673.7,1169.3"/>
<path class="e" stroke="#1a80ff" stroke-width="3.6" marker-end="url(#a-blue2)" d="M747.6,1147.1L699.1,1126.9"/>
<path class="e" stroke="#1a80ff" stroke-width="3.6" marker-end="url(#a-blue2)" d="M758.4,1166.3L758.2,1169.3"/>
<path class="e" stroke="#1a80ff" stroke-width="3.6" marker-end="url(#a-blue2)" d="M749.4,1161.7C735,1180 730,1200 732,1215C733,1228 737,1236 741.5,1244.7"/>
<path class="e" stroke="#1a80ff" stroke-width="3.6" marker-end="url(#a-blue2)" d="M770.9,1163.2C782,1175 786,1190 784.7,1206.7"/>
<path class="e" stroke="#1ab0ff" stroke-width="3.3" marker-end="url(#a-ltblue2)" d="M828,1183.1L784.5,1162.5"/>
<path class="e" stroke="#4a50ff" stroke-width="3.8" marker-end="url(#a-blue1)" d="M767.2,1264.3C800,1252 818,1235 819.6,1210L819.6,1150C819.6,1115 790,1085 691.7,1081.7"/>
<path class="e" stroke="#1ae6ff" stroke-width="3.8" marker-end="url(#a-cyan2)" d="M851.4,1289C848,1265 847,1240 848.1,1215.3"/>
<path class="e" stroke="#1ae6ff" stroke-width="3.8" marker-end="url(#a-cyan2)" d="M855.1,1289Q860,1270 863.6,1249.5"/>
<path class="e" stroke="#1ae6ff" stroke-width="3.8" marker-end="url(#a-cyan2)" d="M881.4,1252.9L878,1246.7"/>
<path class="e" stroke="#e619d9" stroke-width="3.6" marker-end="url(#a-mag3)" d="M868.5,1326L864.3,1320.9"/>
<path class="e" stroke="#e619d9" stroke-width="3.6" marker-end="url(#a-mag3)" d="M875.9,1327C882,1315 885,1300 885.8,1286.2"/>
<path class="e" stroke="#b050a0" stroke-width="3.8" marker-end="url(#a-mauve)" d="M876.8,1436.5C868,1410 866,1385 869.3,1359.5"/>
<path class="e" stroke="#b050a0" stroke-width="3.8" marker-end="url(#a-mauve)" d="M883.5,1362.6L881.9,1357"/>
<path class="e" stroke="#808078" stroke-width="3.3" marker-end="url(#a-grey)" d="M908.3,1398.8L900.6,1392.1"/>
<path class="e" stroke="#808078" stroke-width="3.3" marker-end="url(#a-grey)" d="M903.6,1421.2L891.6,1431.4"/>
<path class="e" stroke="#808078" stroke-width="3.3" marker-end="url(#a-grey)" d="M913.8,1423.7L914.3,1427.9"/>
<path class="e" stroke="#1ab01a" stroke-width="3.3" marker-end="url(#a-g1)" d="M86.5,1141.3L86.6,1139"/>
<path class="e" stroke="#1ab01a" stroke-width="3.3" marker-end="url(#a-g1)" d="M82,1167.5L81.9,1169.3"/>
<path class="e" stroke="#1a804a" stroke-width="3.3" marker-end="url(#a-g2)" d="M86.6,1105L86.7,1102.2"/>
<path class="e" stroke="#1a509a" stroke-width="3.3" marker-end="url(#a-g3)" d="M89.9,1068.4L90.6,1065.5"/>
<path class="e" stroke="#1a1ae6" stroke-width="3.3" marker-end="url(#a-g4)" d="M97.5,1031.5L97.9,1028.6"/>
<path class="e" stroke="#1a1aff" stroke-width="3.5" marker-end="url(#a-blue3)" d="M109.1,998.9L122.2,987.3"/>
<path class="e" stroke="#1a1aff" stroke-width="3.9" marker-end="url(#a-blue3)" d="M111.8,1014.2L155.6,1033.6"/>
<path class="e" stroke="#1a1aff" stroke-width="3.9" marker-end="url(#a-blue3)" d="M107.1,1017.3C118,1030 123,1045 124.3,1059.5"/>
<path class="e" stroke="#1a1aff" stroke-width="1.8" marker-end="url(#t-blue3)" d="M152.6,963.9L194.9,943.4"/>
<path class="e" stroke="#1a1aff" stroke-width="1.8" marker-end="url(#t-blue3)" d="M140.4,957.5C145,915 165,880 193.3,867.4"/>
<path class="e" stroke="#1a1aff" stroke-width="1.8" marker-end="url(#t-blue3)" d="M147,980.4Q195,1005 224.5,1065.2"/>
<path class="e" stroke="#1a1aff" stroke-width="1.8" marker-end="url(#t-blue3)" d="M138.3,982C140,1020 158,1065 178.5,1100.9"/>
<path class="e" stroke="#1a1aff" stroke-width="1.8" marker-end="url(#t-blue3)" d="M177.8,1056.3Q181,1080 184.3,1098.9"/>
<path class="e" stroke="#1a1aff" stroke-width="1.8" marker-end="url(#t-blue3)" d="M177.1,1031.8L177,940C177,910 185,890 200.3,874.9"/>
<path class="e" stroke="#1a1aff" stroke-width="1.8" marker-end="url(#t-blue3)" d="M183.9,1031.8L210.8,951.6"/>
<path class="e" stroke="#1a1aff" stroke-width="1.8" marker-end="url(#t-blue3)" d="M189.4,1052.5L219.1,1069.9"/>
<path class="e" stroke="#8080ff" stroke-width="3.3" marker-end="url(#a-peri)" d="M235.5,1093L235.4,1095.7"/>
<path class="e" stroke="#e050ff" stroke-width="3" marker-end="url(#a-pmag)" d="M228.2,1126.7L217.6,1136.7"/>
<path class="e" stroke="#ff1aff" stroke-width="3.4" marker-end="url(#a-mag2)" d="M196.9,1165.8C193,1180 193,1195 195.8,1207.1"/>
<path class="e" stroke="#ff1aff" stroke-width="3.4" marker-end="url(#a-mag2)" d="M204.3,1166.5L207.8,1171.1"/>
<path class="e" stroke="#ff80ff" stroke-width="3" marker-end="url(#a-pink)" d="M265.6,258.8L264.5,255.1"/>
<path class="e" stroke="#ff80ff" stroke-width="3" marker-end="url(#a-pink)" d="M247.4,281.3L236.6,292"/>
<path class="e" stroke="#ff80ff" stroke-width="3.4" marker-end="url(#a-pink)" d="M242.5,276.2C230,283 220,285 210,287C195,290 188,300 185,325C182,350 181.2,375 181.2,397"/>
<path class="e" stroke="#ff80ff" stroke-width="3.4" marker-end="url(#a-pink)" d="M259.1,283C264,300 267,330 263.3,360.4"/>
<path class="e" stroke="#b4b4ff" stroke-width="2.9" marker-end="url(#a-lav)" d="M246.4,333.2Q252,315 255.7,292.7"/>
<path class="e" stroke="#80ffff" stroke-width="3" marker-end="url(#a-ltcyan)" d="M224.9,319.6L228.5,326.2"/>
<path class="e" stroke="#80ffff" stroke-width="3" marker-end="url(#a-ltcyan)" d="M255.2,368.9L251,365.8"/>
</g>
<g id="legend">
<text x="2.7" y="1501" textLength="68.6" lengthAdjust="spacingAndGlyphs">Feature: t-0</text>
<text x="91.1" y="1501" textLength="296.6" lengthAdjust="spacingAndGlyphs">steps shown as green -&gt; blue -&gt; red (early to late)</text>
<text x="2.7" y="1514.3" textLength="102" lengthAdjust="spacingAndGlyphs">sensor input: [54]</text>
<text x="236.7" y="1514.3" textLength="85.7" lengthAdjust="spacingAndGlyphs">t-1 output: 994</text>
<text x="236.7" y="1527.6" textLength="85.7" lengthAdjust="spacingAndGlyphs">t-2 output: 908</text>
<text x="236.7" y="1540.9" textLength="85.7" lengthAdjust="spacingAndGlyphs">t-3 output: 930</text>
<text x="236.7" y="1554.2" textLength="85.7" lengthAdjust="spacingAndGlyphs">t-4 output: 979</text>
</g>
</g>
</svg>
